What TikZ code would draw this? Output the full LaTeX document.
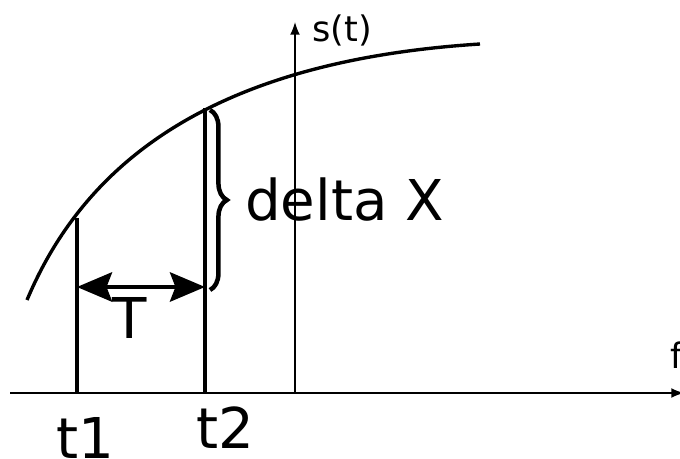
\documentclass[tikz,border=0pt]{standalone}
\usepackage{fontspec}
\setmainfont{DejaVu Sans}
\usetikzlibrary{arrows.meta,decorations.pathreplacing}

\begin{document}
\begin{tikzpicture}[x=0.025cm, y=-0.025cm,
  axis/.style={line width=1.1pt, -{Latex[length=9pt,width=7pt]}},
  mark line/.style={line width=2.2pt},
  big/.style={font=\fontsize{40}{42}\selectfont, inner sep=0pt},
  small/.style={font=\fontsize{25}{27}\selectfont, inner sep=0pt}
]
  \useasboundingbox (0,0) rectangle (680,459);

  % axes
  \coordinate (o1) at (10,393);
  \coordinate (o2) at (295,393);
  \coordinate (xend) at (684,393);
  \coordinate (yend) at (295,22);
  \draw[axis] (o1) -- (xend);
  \draw[axis] (o2) -- (yend);

  % curve
  \coordinate (c0) at (27,300);
  \coordinate (c1) at (480,44);
  \draw[line width=2.4pt] (c0) .. controls (90,150) and (230,60) .. (c1);

  % sample times
  \coordinate (p1) at (77,218);
  \coordinate (b1) at (77,393);
  \coordinate (p2) at (205,108);
  \coordinate (b2) at (205,393);
  \draw[mark line] (p1) -- (b1);
  \draw[mark line] (p2) -- (b2);

  % period
  \coordinate (a1) at (77,287);
  \coordinate (a2) at (205,287);
  \draw[line width=2.2pt, {Stealth[length=25pt,width=21pt,inset=4pt]}-{Stealth[length=25pt,width=21pt,inset=4pt]}] (a1) -- (a2);

  % delta brace
  \coordinate (d1) at (210,290);
  \coordinate (d2) at (210,110);
  \draw[line width=3.2pt, decorate, decoration={brace, amplitude=12pt}] (d2) -- (d1);

  \node[big] (lT) at (130,318) {T};
  \node[big, anchor=west] (ldx) at (245,200) {delta X};
  \node[big] (lt1) at (85,438) {t1};
  \node[big] (lt2) at (225,428) {t2};
  \node[small, anchor=west] (ls) at (312,30) {s(t)};
  \node[small, anchor=west] (lf) at (670,355) {f};
\end{tikzpicture}
\end{document}
